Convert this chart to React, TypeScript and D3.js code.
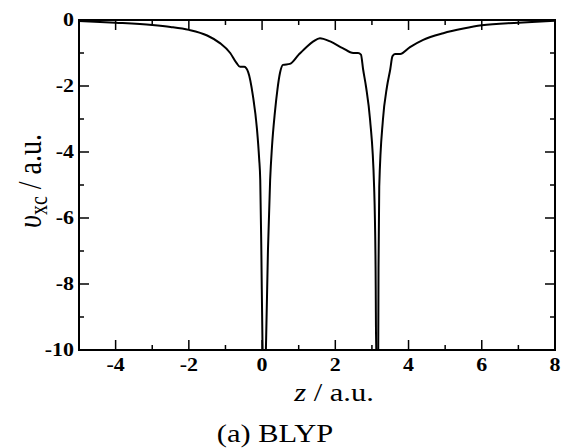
import React from "react";
import * as d3 from "d3";

const zValues = [
  -5, -4, -3, -2.5, -2, -1.5, -1.15, -0.87, -0.7, -0.6, -0.49, -0.38, -0.25, -0.14, -0.08, -0.05, -0.02, 0.01, 0.03,
  0.09, 0.11, 0.16, 0.22, 0.27, 0.35, 0.42, 0.49, 0.57, 0.76, 1.0, 1.23, 1.4, 1.58, 1.86, 2.2, 2.49, 2.62,
  2.7, 2.76, 2.84, 2.95, 3.06, 3.1, 3.12, 3.17, 3.18, 3.2, 3.3, 3.41, 3.5, 3.56, 3.63, 3.77, 4.04, 4.4, 4.95,
  5.5, 6.0, 7.0, 8.0,
];
const vxcValues = [
  -0.03, -0.08, -0.15, -0.21, -0.3, -0.47, -0.7, -1.0, -1.3, -1.42, -1.42, -1.58, -2.3, -3.3, -4.2, -4.85, -7, -9.7, -10.5,
  -10.5, -9.7, -7, -4.85, -3.85, -2.8, -2.1, -1.6, -1.36, -1.33, -1.05, -0.8, -0.65, -0.55, -0.65, -0.85, -1.0, -1.0,
  -1.05, -1.5, -2.03, -3.03, -5.06, -7.5, -10.5, -10.5, -7.5, -5.06, -3.03, -2.03, -1.5, -1.1, -1.03, -1.03, -0.82, -0.6, -0.4,
  -0.26, -0.16, -0.08, -0.02,
];
const xMajorTicks = [-4, -2, 0, 2, 4, 6, 8];
const xMinorTicks = [-5, -3, -1, 1, 3, 5, 7];
const yMajorTicks = [0, -2, -4, -6, -8, -10];
const yMinorTicks = [-1, -3, -5, -7, -9];

const W = 561;
const H = 448;
const left = 79;
const right = 555;
const top = 20;
const bottom = 350;
const SX = 1.22;
const FONT = "'Liberation Serif', 'Times New Roman', serif";

export default function App() {
  const x = d3.scaleLinear().domain([-5, 8]).range([left, right]);
  const y = d3.scaleLinear().domain([0, -10]).range([top, bottom]);
  const pts = zValues.map((z, i) => [z, vxcValues[i]] as [number, number]);
  const line = d3
    .line<[number, number]>()
    .x((d) => x(d[0]))
    .y((d) => y(d[1]))
    .curve(d3.curveMonotoneX);
  const major = 10;
  const minor = 5;
  return (
    <svg width={W} height={H} style={{ position: "absolute", left: 0, top: 0, background: "#fff" }}>
      <defs>
        <clipPath id="plotclip">
          <rect x={left} y={top} width={right - left} height={bottom - top} />
        </clipPath>
      </defs>
      <rect x={0} y={0} width={W} height={H} fill="#fff" />
      <path d={line(pts) || ""} fill="none" stroke="#000" strokeWidth={2} clipPath="url(#plotclip)" strokeLinejoin="round" />
      <rect x={left} y={top} width={right - left} height={bottom - top} fill="none" stroke="#000" strokeWidth={2} />
      {xMajorTicks.map((t) => (
        <g key={"xM" + t}>
          <line x1={x(t)} x2={x(t)} y1={bottom} y2={bottom - major} stroke="#000" strokeWidth={1.5} />
          <line x1={x(t)} x2={x(t)} y1={top} y2={top + major} stroke="#000" strokeWidth={1.5} />
          <text
            transform={`translate(${x(t)},371) scale(${SX},1)`}
            textAnchor="middle"
            fontFamily={FONT}
            fontWeight="bold"
            fontSize={18}
          >
            {t}
          </text>
        </g>
      ))}
      {xMinorTicks.map((t) => (
        <g key={"xm" + t}>
          <line x1={x(t)} x2={x(t)} y1={bottom} y2={bottom - minor} stroke="#000" strokeWidth={1.5} />
          <line x1={x(t)} x2={x(t)} y1={top} y2={top + minor} stroke="#000" strokeWidth={1.5} />
        </g>
      ))}
      {yMajorTicks.map((t) => (
        <g key={"yM" + t}>
          <line x1={left} x2={left + major} y1={y(t)} y2={y(t)} stroke="#000" strokeWidth={1.5} />
          <line x1={right} x2={right - major} y1={y(t)} y2={y(t)} stroke="#000" strokeWidth={1.5} />
          <text
            transform={`translate(74,${y(t) + 6}) scale(${SX},1)`}
            textAnchor="end"
            fontFamily={FONT}
            fontWeight="bold"
            fontSize={18}
          >
            {t}
          </text>
        </g>
      ))}
      {yMinorTicks.map((t) => (
        <g key={"ym" + t}>
          <line x1={left} x2={left + minor} y1={y(t)} y2={y(t)} stroke="#000" strokeWidth={1.5} />
          <line x1={right} x2={right - minor} y1={y(t)} y2={y(t)} stroke="#000" strokeWidth={1.5} />
        </g>
      ))}
      <text transform={`translate(334,401) scale(${SX},1)`} textAnchor="middle" fontFamily={FONT} fontSize={25}>
        <tspan fontStyle="italic">z</tspan>
        <tspan> / a.u.</tspan>
      </text>
      <text transform={`translate(41,181) scale(${SX},1) rotate(-90)`} textAnchor="middle" fontFamily={FONT} fontSize={28}>
        <tspan fontStyle="italic">υ</tspan>
        <tspan fontSize={20} dy={5}>xc</tspan>
        <tspan dy={-5}> / a.u.</tspan>
      </text>
      <text transform={`translate(275,442) scale(${SX},1)`} textAnchor="middle" fontFamily={FONT} fontSize={25}>
        (a) BLYP
      </text>
    </svg>
  );
}
